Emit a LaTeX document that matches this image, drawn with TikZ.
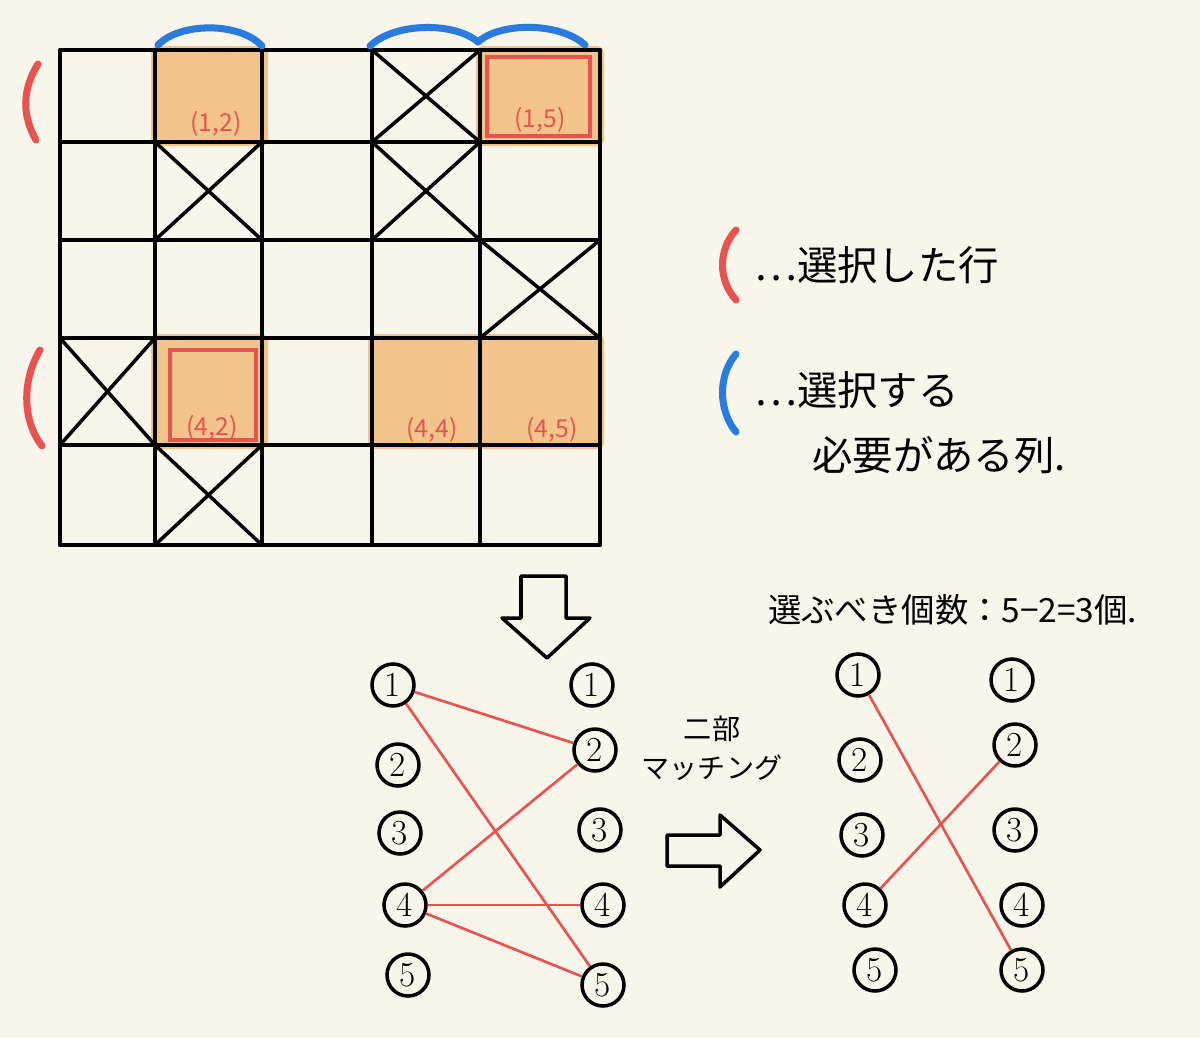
\documentclass[tikz,border=0pt]{standalone}
\usepackage{fontspec}
\newfontfamily\jpfont{Noto Sans CJK JP}
\usepackage{xcolor}
\usepackage{tikz}
\usetikzlibrary{
  arrows.meta,
  positioning
}
\definecolor{paper}{HTML}{F8F5EB}
\definecolor{cellor}{HTML}{F3C38C}
\definecolor{penred}{HTML}{E8524F}
\definecolor{penblue}{HTML}{2A7BDE}

\begin{document}
\begin{tikzpicture}[
  x=0.02cm, y=-0.02cm,
  gridln/.style={line width=2.2pt, line cap=round},
  crossln/.style={line width=2pt},
  cellfill/.style={fill=cellor, rounded corners=4pt},
  selbox/.style={draw=penred, line width=2.4pt},
  celllbl/.style={font=\jpfont\fontsize{14}{14}\selectfont, text=penred},
  vtx/.style={draw, circle, line width=2pt, minimum size=0.84cm,
              inner sep=0pt, font=\fontsize{20}{20}\selectfont},
  match/.style={draw=penred, line width=1.5pt},
  rowmark/.style={draw=penred, line width=4pt, line cap=round},
  colmark/.style={draw=penblue, line width=4pt, line cap=round},
  bigarr/.style={draw, line width=2pt, fill=paper, line join=round},
  jp/.style={font=\jpfont\fontsize{#1}{#1}\selectfont},
]
  % paper
  \fill[paper] (0,0) rectangle (1200,1038);
  \useasboundingbox (0,0) rectangle (1200,1038);

  % orange cells
  \fill[cellfill] (151,46) rectangle (268,146);
  \fill[cellfill] (476,46) rectangle (604,146);
  \fill[cellfill] (151,334) rectangle (268,449);
  \fill[cellfill] (368,334) rectangle (484,449);
  \fill[cellfill] (476,334) rectangle (604,449);

  % grid 5x5
  \foreach \x in {60,155,262,372,480,600}
    \draw[gridln] (\x,50) -- (\x,545);
  \foreach \y in {50,142,240,338,445,545}
    \draw[gridln] (60,\y) -- (600,\y);

  % crossed cells
  \foreach \xa/\ya/\xb/\yb in {372/50/480/142, 155/142/262/240,
      372/142/480/240, 480/240/600/338, 60/338/155/445, 155/445/262/545}{
    \draw[crossln] (\xa,\ya) -- (\xb,\yb);
    \draw[crossln] (\xb,\ya) -- (\xa,\yb);
  }

  % chosen cells
  \draw[selbox] (487,57) rectangle (590,136);
  \draw[selbox] (170,350) rectangle (256,440);

  % cell labels
  \node[celllbl] (c12) at (216,124) {(1,2)};
  \node[celllbl] (c15) at (540,120) {(1,5)};
  \node[celllbl] (c42) at (212,428) {(4,2)};
  \node[celllbl] (c44) at (432,430) {(4,4)};
  \node[celllbl] (c45) at (552,430) {(4,5)};

  % selected rows / needed columns
  \draw[rowmark] (38,64) .. controls (22,90) and (22,115) .. (36,140);
  \draw[rowmark] (40,350) .. controls (22,380) and (22,420) .. (42,446);
  \draw[colmark] (158,45) .. controls (180,22) and (240,22) .. (262,46);
  \draw[colmark] (370,46) .. controls (395,22) and (455,22) .. (478,42);
  \draw[colmark] (478,42) .. controls (500,22) and (560,22) .. (585,45);

  % legend
  \draw[rowmark] (736,230) .. controls (718,250) and (718,280) .. (736,300);
  \node[jp=23, anchor=west] (lgrow) at (748,265) {…選択した行};
  \draw[colmark] (736,354) .. controls (718,375) and (718,410) .. (736,432);
  \node[jp=23, anchor=west] (lgcol) at (748,390) {…選択する};
  \node[jp=23, anchor=west] (lgcol2) at (806,455) {必要がある列.};

  % down arrow
  \draw[bigarr] (521,576) -- (566,576) -- (566,618) -- (590,618)
    -- (547,658) -- (502,618) -- (521,618) -- cycle;

  % bipartite graph
  \node[vtx] (l1) at (393,685) {1};
  \node[vtx] (l2) at (398,765) {2};
  \node[vtx] (l3) at (400,833) {3};
  \node[vtx] (l4) at (405,905) {4};
  \node[vtx] (l5) at (408,975) {5};
  \node[vtx] (r1) at (592,685) {1};
  \node[vtx] (r2) at (595,750) {2};
  \node[vtx] (r3) at (600,830) {3};
  \node[vtx] (r4) at (603,905) {4};
  \node[vtx] (r5) at (603,985) {5};

  \draw[match] (l1) -- (r2);
  \draw[match] (l1) -- (r5);
  \draw[match] (l4) -- (r2);
  \draw[match] (l4) -- (r4);
  \draw[match] (l4) -- (r5);

  % matching step
  \node[jp=16, align=center] (bpm) at (712,748) {二部\\[6pt]マッチング};
  \draw[bigarr] (667,835) -- (720,835) -- (720,815) -- (760,850)
    -- (720,887) -- (720,866) -- (667,866) -- cycle;

  % result
  \node[jp=19, anchor=west] (cnt) at (762,610) {選ぶべき個数：5−2=3個.};
  \node[vtx] (p1) at (858,675) {1};
  \node[vtx] (p2) at (860,760) {2};
  \node[vtx] (p3) at (862,835) {3};
  \node[vtx] (p4) at (865,905) {4};
  \node[vtx] (p5) at (875,970) {5};
  \node[vtx] (q1) at (1012,680) {1};
  \node[vtx] (q2) at (1015,745) {2};
  \node[vtx] (q3) at (1015,830) {3};
  \node[vtx] (q4) at (1022,905) {4};
  \node[vtx] (q5) at (1022,970) {5};

  \draw[match] (p1) -- (q5);
  \draw[match] (p4) -- (q2);

\end{tikzpicture}
\end{document}
